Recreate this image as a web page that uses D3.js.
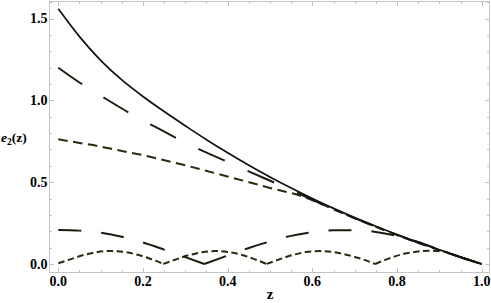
<!DOCTYPE html>
<html><head><meta charset="utf-8">
<script src="https://cdn.jsdelivr.net/npm/d3@7"></script>
<style>
html,body{margin:0;padding:0;background:#fff;}
svg{display:block;}
</style></head>
<body>
<script>
// ---- data ----
const zTop = [0,0.05,0.1,0.15,0.2,0.25,0.3,0.35,0.4,0.45,0.5,0.55,0.6,0.65,0.7,0.75,0.8,0.85,0.9,0.95,1.0];
const solidVals = [1.56,1.39,1.245,1.125,1.024,0.932,0.845,0.76,0.68,0.604,0.532,0.464,0.40,0.34,0.284,0.231,0.18,0.132,0.087,0.043,0.0];
const longDashZ = [0,0.059,0.114,0.177,0.236,0.299,0.358,0.425,0.484,0.551,0.6,0.65,0.7,0.75,0.8,0.85,0.9,0.95,1.0];
const longDashVals = [1.2,1.094,1.007,0.91,0.829,0.743,0.672,0.595,0.527,0.452,0.392,0.335,0.28,0.228,0.178,0.13,0.085,0.042,0.0];
const shortDashZ = [0,0.05,0.1,0.138,0.2,0.232,0.3,0.4,0.5,0.579,0.65,0.7,0.75,0.8,0.85,0.9,0.95,1.0];
const shortDashVals = [0.762,0.74,0.718,0.697,0.665,0.646,0.603,0.535,0.465,0.411,0.334,0.279,0.227,0.177,0.13,0.085,0.042,0.0];
const lowLongZ = [0,0.05,0.1,0.15,0.2,0.25,0.3,0.345,0.4,0.45,0.5,0.55,0.6,0.65,0.7,0.75,0.8,0.85,0.9,0.95,1.0];
const lowLongVals = [0.208,0.204,0.192,0.166,0.132,0.088,0.042,0.0,0.052,0.098,0.138,0.172,0.194,0.206,0.207,0.196,0.172,0.135,0.087,0.041,0.0];
const lowShortZ = [0,0.03,0.06,0.09,0.122,0.155,0.185,0.215,0.248,0.28,0.31,0.34,0.37,0.40,0.43,0.46,0.492,0.525,0.555,0.585,0.618,0.65,0.68,0.715,0.748,0.78,0.81,0.845,0.878,0.91,0.94,0.97,1.0];
const lowShortVals = [0.005,0.03,0.055,0.072,0.08,0.074,0.058,0.034,0.0,0.03,0.055,0.072,0.079,0.074,0.058,0.033,0.0,0.031,0.056,0.073,0.079,0.073,0.057,0.032,0.0,0.033,0.058,0.075,0.081,0.076,0.05,0.024,0.0];
const xTicks = [0,0.2,0.4,0.6,0.8,1.0];
const xTickLabels = ["0.0","0.2","0.4","0.6","0.8","1.0"];
const yTicks = [0,0.5,1.0,1.5];
const yTickLabels = ["0.0","0.5","1.0","1.5"];

const W = 491, H = 303;
const FONT = "Liberation Serif";
const frame = {left:49.5, right:489.5, top:1.5, bottom:272.5};
const x = d3.scaleLinear().domain([0,1]).range([58.3,481.7]);
const y = d3.scaleLinear().domain([0,1.5]).range([264,18.6]);

const svg = d3.select("body").append("svg").attr("width",W).attr("height",H);

// frame
const fc = "#c4c4c4";
svg.append("rect").attr("x",frame.left).attr("y",frame.top)
  .attr("width",frame.right-frame.left).attr("height",frame.bottom-frame.top)
  .attr("fill","none").attr("stroke",fc).attr("stroke-width",1);

const xMinor = d3.range(0,1.0001,0.05);
const yMinor = d3.range(0,1.6001,0.1);
const tg = svg.append("g").attr("stroke",fc).attr("stroke-width",1);
xMinor.forEach(v=>{
  const major = Math.abs(v*5-Math.round(v*5))<1e-6;
  const len = major?4.5:2.5;
  const px = Math.round(x(v))+0.5;
  tg.append("line").attr("x1",px).attr("x2",px).attr("y1",frame.bottom).attr("y2",frame.bottom-len);
  tg.append("line").attr("x1",px).attr("x2",px).attr("y1",frame.top).attr("y2",frame.top+len);
});
yMinor.forEach(v=>{
  const py = y(v); if(py<frame.top) return;
  const major = Math.abs(v*2-Math.round(v*2))<1e-6;
  const len = major?4.5:2.5;
  const p = Math.round(py)+0.5;
  tg.append("line").attr("y1",p).attr("y2",p).attr("x1",frame.left).attr("x2",frame.left+len);
  tg.append("line").attr("y1",p).attr("y2",p).attr("x1",frame.right).attr("x2",frame.right-len);
});

function txt(xp,yp,s,size,anchor){
  return svg.append("text").attr("x",xp).attr("y",yp).attr("text-anchor",anchor||"start")
    .attr("font-family",FONT).attr("font-weight","bold").attr("font-size",size)
    .attr("fill","#000").text(s);
}
// tick labels
xTicks.forEach((v,i)=>txt(x(v),286,xTickLabels[i],14,"middle"));
yTicks.forEach((v,i)=>txt(47.5,y(v)+4.8,yTickLabels[i],14,"end"));

// axis labels
txt(270,299,"z",15,"middle");
const yl = txt(1,142,"",13.5,"start");
yl.append("tspan").attr("font-style","italic").text("e");
yl.append("tspan").attr("font-size",9.5).attr("dy",3).text("2");
yl.append("tspan").attr("dy",-3).text("(z)");

// lines
const line = d3.line().x(d=>x(d[0])).y(d=>y(d[1])).curve(d3.curveMonotoneX);
function zip(a,b){return a.map((v,i)=>[v,b[i]]);}
function splitAtMinima(pts){
  const segs=[]; let cur=[pts[0]];
  for(let i=1;i<pts.length;i++){
    cur.push(pts[i]);
    if(i<pts.length-1 && pts[i][1]<pts[i-1][1] && pts[i][1]<pts[i+1][1]){
      segs.push(cur); cur=[pts[i]];
    }
  }
  segs.push(cur); return segs;
}
const plot = svg.append("g").attr("fill","none").attr("stroke-linecap","butt");
function draw(pts,color,width,dash,split){
  const segs = split?splitAtMinima(pts):[pts];
  const d = segs.map(s=>line(s)).join("");
  plot.append("path").attr("d",d).attr("stroke",color).attr("stroke-width",width)
    .attr("stroke-dasharray",dash||null);
}
draw(zip(lowShortZ,lowShortVals),"#2a2812",2,"6.5,3.5",true);
draw(zip(lowLongZ,lowLongVals),"#1e1a10",2,"23,20",true);
draw(zip(shortDashZ,shortDashVals),"#2a2a10",2,"9.5,5.5",false);
draw(zip(longDashZ,longDashVals),"#241c10",2,"29,25",false);
draw(zip(zTop,solidVals),"#111",1.7,null,false);
</script>
</body></html>
